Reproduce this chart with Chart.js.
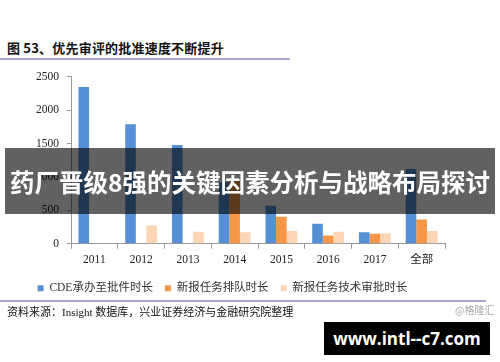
<!DOCTYPE html>
<html>
<head>
<meta charset="utf-8">
<script src="https://cdn.jsdelivr.net/npm/chart.js@4"></script>
<style>
  body { margin: 0; width: 500px; height: 362px; background: #fff; position: relative; overflow: hidden; }
  .title { position: absolute; left: 7px; top: 38px; font: 600 13px "Noto Sans CJK SC"; color: #111; letter-spacing: 0.2px; }
  .rule { position: absolute; left: 0; height: 2px; background: #a8a8c8; }
  #chartBox { position: absolute; left: 0; top: 62px; }
  .banner { position: absolute; left: 5px; top: 148px; width: 490px; height: 66px; background: rgba(0,0,0,0.62);
            color: #fff; font: 700 24.5px "Noto Sans CJK SC"; line-height: 68px; text-align: center; white-space: nowrap; }
  .source { position: absolute; left: 7px; top: 303px; font: 11px "Liberation Serif", "Noto Sans CJK SC"; color: #111; }
  .mark { position: absolute; left: 455px; top: 302px; font: 10px "Noto Sans CJK SC"; color: #aaa; }
  .site { position: absolute; left: 324px; top: 322px; width: 166px; height: 33px; background: #000; color: #fff;
          font: 700 17px "Open Sans"; line-height: 33px; text-align: center; }
</style>
</head>
<body>
<div class="title">图 53、优先审评的批准速度不断提升</div>
<div class="rule" style="top:58px;width:290px"></div>
<canvas id="chartBox" width="500" height="242"></canvas>
<div class="rule" style="top:300px;width:486px"></div>
<div class="source">资料来源：Insight 数据库，兴业证券经济与金融研究院整理</div>
<div class="mark">@格隆汇</div>
<div class="banner">药厂晋级8强的关键因素分析与战略布局探讨</div>
<div class="site">www.intl--c7.com</div>
<script>
const categories = ["2011", "2012", "2013", "2014", "2015", "2016", "2017", "全部"];
const cdeDays = [2350, 1790, 1480, 920, 570, 300, 170, 1120];
const queueDays = [0, 0, 0, 940, 405, 122, 150, 362];
const reviewDays = [0, 272, 180, 170, 192, 180, 152, 190];
const yTicks = [0, 500, 1000, 1500, 2000, 2500];

const serif = { family: "'Liberation Serif', 'Noto Sans CJK SC'", size: 11.5 };

new Chart(document.getElementById("chartBox"), {
    type: "bar",
    data: {
        labels: categories,
        datasets: [
            { label: "CDE承办至批件时长", data: cdeDays, backgroundColor: "#5590d6" },
            { label: "新报任务排队时长", data: queueDays, backgroundColor: "#f79646" },
            { label: "新报任务技术审批时长", data: reviewDays, backgroundColor: "#fcd5b5" },
        ],
    },
    options: {
        responsive: false,
        animation: false,
        layout: { padding: { left: 0, right: 55, top: 6, bottom: 0 } },
        datasets: { bar: { categoryPercentage: 0.68, barPercentage: 1.0 } },
        plugins: {
            tooltip: { enabled: false },
            legend: {
                position: "bottom",
                labels: { boxWidth: 6, boxHeight: 6, padding: 12, color: "#333", font: serif },
            },
        },
        scales: {
            x: {
                grid: { drawOnChartArea: false, tickLength: 5, color: "#999" },
                border: { color: "#999" },
                ticks: { color: "#222", font: serif, padding: 4 },
            },
            y: {
                min: 0,
                max: 2500,
                afterBuildTicks: (axis) => { axis.ticks = yTicks.map((v) => ({ value: v })); },
                afterFit: (axis) => { axis.width = 71; },
                grid: { drawOnChartArea: false, tickLength: 4, color: "#999" },
                border: { color: "#999" },
                ticks: { color: "#222", font: serif, padding: 8, callback: (v) => String(v) },
            },
        },
    },
});
</script>
</body>
</html>
